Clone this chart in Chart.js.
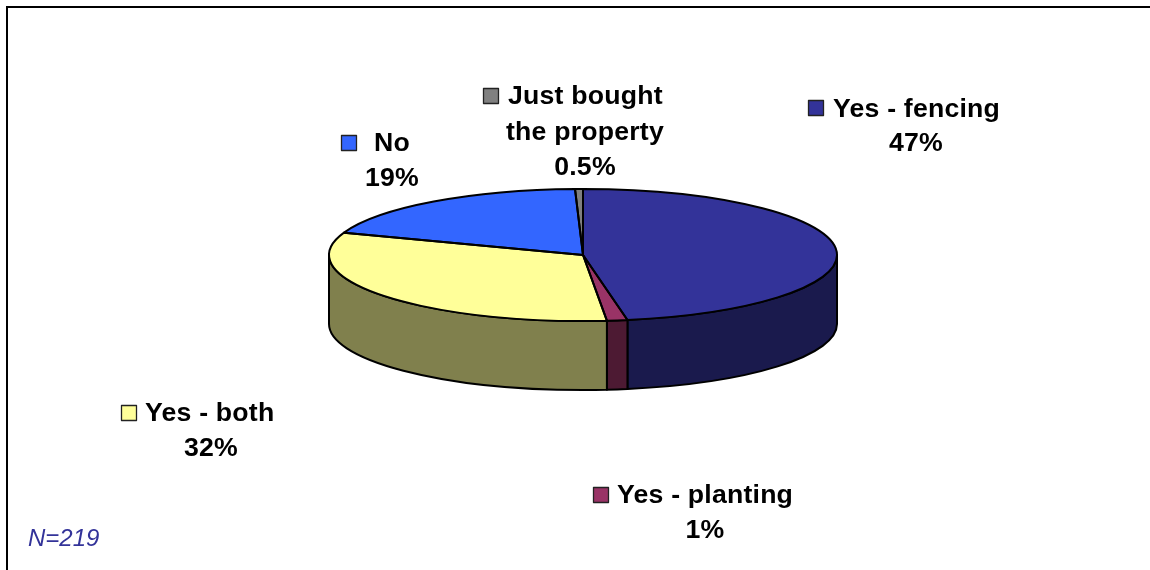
<!DOCTYPE html>
<html>
<head>
<meta charset="utf-8">
<style>html,body{margin:0;padding:0;background:#fff}canvas{display:block}</style>
<script src="https://cdn.jsdelivr.net/npm/chart.js@4"></script>
</head>
<body>
<canvas id="c" width="1150" height="570"></canvas>
<script>
const categories = ['Yes - fencing', 'Yes - planting', 'Yes - both', 'No', 'Just bought the property'];
const values = [47.2, 1.3, 32, 19, 0.5];
const percentLabels = ['47%', '1%', '32%', '19%', '0.5%'];
const colors = ['#333399', '#993366', '#FFFF99', '#3366FF', '#808080'];
const sideColors = ['#1A1A4D', '#4D1A33', '#80804D', '#1A3380', '#404040'];
const note = 'N=219';

const RADIUS = 254, SQUASH = 66 / 254, DEPTH = 69, TOP_CY = 255;
const FONT = 'bold 26.67px "Liberation Sans", Arial, sans-serif';

// swatch box + lines of each label, in the order of the categories
const labelLayout = [
  {box:[808,100], lines:[[833,117,'left',['Yes - fencing']],[916,151,'center',null]]},
  {box:[593,487], lines:[[617,503,'left',['Yes - planting']],[705,538,'center',null]]},
  {box:[121,405], lines:[[145,421,'left',['Yes - both']],[211,456,'center',null]]},
  {box:[341,135], lines:[[374,151,'left',['No']],[392,186,'center',null]]},
  {box:[483,88],  lines:[[508,104,'left',['Just bought']],[506,140,'left',['the property']],[585,175,'center',null]]}
];

const pie3d = {
  id: 'pie3d',
  beforeDraw(chart) {
    const {ctx} = chart;
    ctx.save();
    ctx.fillStyle = '#000';
    ctx.fillRect(6, 6, 1144, 2);
    ctx.fillRect(6, 6, 2, 564);
    ctx.restore();
  },
  beforeDatasetsDraw(chart) {
    const {ctx} = chart;
    const arcs = chart.getDatasetMeta(0).data;
    const cx = arcs[0].x, cy0 = arcs[0].y, rx = arcs[0].outerRadius, ry = rx * SQUASH;
    ctx.save();
    ctx.lineWidth = 2;
    ctx.strokeStyle = '#000';
    ctx.lineJoin = 'round';
    arcs.forEach((arc, i) => {
      const a0 = Math.max(arc.startAngle, 0), a1 = Math.min(arc.endAngle, Math.PI);
      if (a1 <= a0) return;
      ctx.beginPath();
      ctx.ellipse(cx, TOP_CY, rx, ry, 0, a0, a1);
      ctx.ellipse(cx, TOP_CY + DEPTH, rx, ry, 0, a1, a0, true);
      ctx.closePath();
      ctx.fillStyle = sideColors[i];
      ctx.fill();
      ctx.stroke();
    });
    ctx.restore();
    // squash the library's circular arcs into the tilted top face
    ctx.save();
    ctx.translate(0, TOP_CY);
    ctx.scale(1, SQUASH);
    ctx.translate(0, -cy0);
  },
  afterDatasetsDraw(chart) {
    const {ctx} = chart;
    ctx.restore();
    const arcs = chart.getDatasetMeta(0).data;
    const cx = arcs[0].x, rx = arcs[0].outerRadius, ry = rx * SQUASH;
    ctx.save();
    ctx.lineWidth = 2;
    ctx.strokeStyle = '#000';
    ctx.lineJoin = 'round';
    arcs.forEach(arc => {
      ctx.beginPath();
      ctx.moveTo(cx, TOP_CY);
      ctx.ellipse(cx, TOP_CY, rx, ry, 0, arc.startAngle, arc.endAngle);
      ctx.closePath();
      ctx.stroke();
    });
    ctx.textBaseline = 'alphabetic';
    ctx.letterSpacing = '0.2px';
    labelLayout.forEach((l, i) => {
      ctx.fillStyle = colors[i];
      ctx.fillRect(l.box[0] + .5, l.box[1] + .5, 15, 15);
      ctx.lineWidth = 1.3;
      ctx.strokeStyle = '#222';
      ctx.strokeRect(l.box[0] + .5, l.box[1] + .5, 15, 15);
      ctx.fillStyle = '#000';
      ctx.font = FONT;
      l.lines.forEach(([x, y, align, text]) => {
        ctx.textAlign = align;
        ctx.fillText(text ? text[0] : percentLabels[i], x, y);
      });
    });
    ctx.letterSpacing = '0px';
    ctx.font = 'italic 24px "Liberation Sans", Arial, sans-serif';
    ctx.fillStyle = '#333399';
    ctx.textAlign = 'left';
    ctx.fillText(note, 28, 546);
    ctx.restore();
  }
};

new Chart(document.getElementById('c'), {
  type: 'pie',
  data: {
    labels: categories,
    datasets: [{data: values, backgroundColor: colors, borderWidth: 0}]
  },
  options: {
    responsive: false,
    animation: false,
    events: [],
    radius: RADIUS,
    layout: {padding: {left: 16}},
    plugins: {legend: {display: false}, tooltip: {enabled: false}}
  },
  plugins: [pie3d]
});
</script>
</body>
</html>
